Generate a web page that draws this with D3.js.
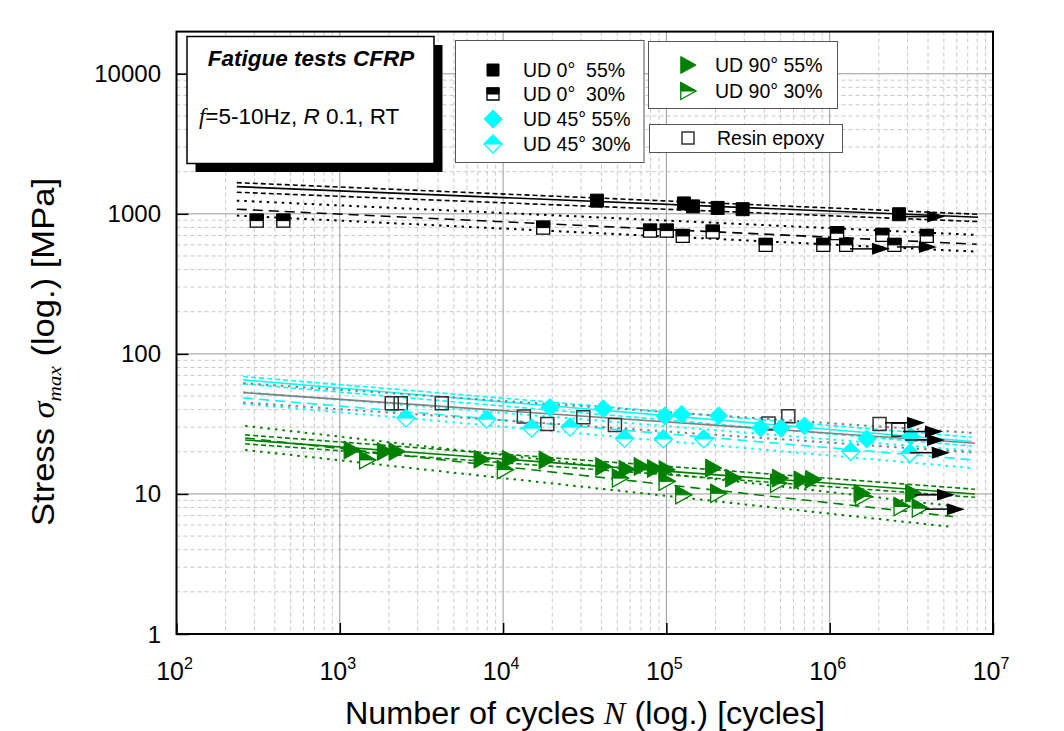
<!DOCTYPE html>
<html>
<head>
<meta charset="utf-8">
<script src="https://cdn.jsdelivr.net/npm/d3@7"></script>
<style>
body { margin: 0; background: #fff; }
text { font-family: "Liberation Sans", Arial, sans-serif; white-space: pre; }
</style>
</head>
<body>
<div id="contenedor"></div>
<script>

// puntos [N ciclos, tension MPa]
ud0_55 = [[37600, 1242], [128000, 1186], [145500, 1130], [206000, 1102], [293000, 1079], [2.66e6, 993]]
ud0_30 = [[310, 894], [451, 894], [17600, 797], [79400, 759], [100500, 759], [125900, 695], [192100, 746],
          [405500, 600], [914000, 600], [1.11e6, 727], [1.26e6, 600], [2.10e6, 707], [2.49e6, 600], [3.93e6, 695]]
ud45_55 = [[19370, 41.4], [41100, 40.6], [98000, 36.1], [124100, 37.0], [208400, 36.1], [376900, 29.6],
           [503000, 29.5], [701000, 30.6], [1.685e6, 24.7], [3.13e6, 25.8]]
ud45_30 = [[2540, 34.8], [7940, 34.2], [14960, 29.5], [25700, 30.0], [55400, 24.9], [95700, 24.7],
           [169200, 24.7], [1.345e6, 20.1], [3.10e6, 19.5]]
ud90_55 = [[1183, 20.6], [1891, 20.1], [2230, 20.1], [7395, 17.7], [11020, 17.7], [18490, 17.5], [41100, 15.7],
           [57100, 15.0], [70600, 15.7], [85100, 15.2], [100500, 14.9], [193700, 15.3], [256900, 12.97],
           [496000, 12.97], [674000, 12.6], [793000, 12.7], [1.57e6, 10.1], [3.25e6, 10.1]]
ud90_30 = [[1473, 17.5], [10270, 14.9], [51990, 12.97], [100500, 12.3], [126900, 9.85], [208000, 10.1],
           [484000, 11.9], [1.606e6, 9.58], [2.76e6, 8.13], [3.57e6, 7.92]]
resina = [[2080, 44.5], [2360, 44.5], [4210, 44.5], [13400, 35.7], [18650, 31.6], [31000, 35.3], [48400, 31.1],
          [422000, 31.9], [558000, 35.8], [2.02e6, 31.6], [2.63e6, 28.7]]

// ensayos sin rotura (flecha)
runouts = [[2.9e6, 955], [1.33e6, 562], [2.58e6, 580], [2.18e6, 32.2], [2.81e6, 27.9],
           [2.89e6, 24.3], [3.1e6, 19.7], [3.33e6, 9.85], [3.83e6, 7.79]]

// rectas de ajuste: media, banda superior, banda inferior
ajuste0_55 = [[[234, 1564], [8.1e6, 946]], [[234, 1670], [8.1e6, 993]], [[234, 1426], [8.1e6, 880]]]
ajuste0_30 = [[[234, 1079], [7.94e6, 607]], [[234, 1242], [7.94e6, 707]], [[234, 971], [7.94e6, 537]]]
ajusteResina = [[[256, 52.9], [7.76e6, 23.0]], [[256, 61.8], [7.76e6, 27.2]], [[256, 44.9], [7.76e6, 19.75]]]
ajuste45_55 = [[[256, 65.2], [7.4e6, 23.7]], [[256, 68.9], [7.4e6, 25.4]], [[256, 61.1], [7.4e6, 22.0]]]
ajuste45_30 = [[[256, 48.5], [7.5e6, 17.5]], [[256, 53.5], [7.5e6, 20.3]], [[256, 44.0], [7.5e6, 15.3]]]
ajuste90_55 = [[[263, 24.3], [7.76e6, 10.0]], [[263, 26.4], [7.76e6, 10.8]], [[263, 22.8], [7.76e6, 9.46]]]
ajuste90_30 = [[[263, 25.1], [5.69e6, 6.9]], [[263, 30.6], [5.69e6, 8.2]], [[263, 20.6], [5.69e6, 5.8]]]

ticksX = [1e2, 1e3, 1e4, 1e5, 1e6, 1e7]
ticksY = [1, 10, 100, 1000, 10000]
etiquetasY = ["1", "10", "100", "1000", "10000"]

negro = "#000"
cian = "#00ffff"
verde = "#008000"
gris = "#808080"

ancho = 1064
alto = 731

x = d3.scaleLog().domain([1e2, 1e7]).range([176.5, 993])
y = d3.scaleLog().domain([1, 2e4]).range([634, 31.6])

menoresX = []
ticksX.slice(0, -1).forEach(function(d) { for (k = 2; k < 10; k++) menoresX.push(d * k) })
menoresY = []
ticksY.slice(0, -1).forEach(function(d) { for (k = 2; k < 10; k++) menoresY.push(d * k) })

svg = d3.select("#contenedor").append("svg")
    .attr("width", ancho)
    .attr("height", alto)

// rejilla
grid = svg.append("g")
grid.selectAll(".gx").data(menoresX).enter().append("line")
    .attr("x1", d => x(d)).attr("x2", d => x(d))
    .attr("y1", y(2e4)).attr("y2", y(1))
    .attr("stroke", "#c8c8c8").attr("stroke-dasharray", "4,3")
grid.selectAll(".gy").data(menoresY).enter().append("line")
    .attr("y1", d => y(d)).attr("y2", d => y(d))
    .attr("x1", x(1e2)).attr("x2", x(1e7))
    .attr("stroke", "#c8c8c8").attr("stroke-dasharray", "4,3")
grid.selectAll(".Gx").data(ticksX).enter().append("line")
    .attr("x1", d => x(d)).attr("x2", d => x(d))
    .attr("y1", y(2e4)).attr("y2", y(1))
    .attr("stroke", "#999")
grid.selectAll(".Gy").data(ticksY).enter().append("line")
    .attr("y1", d => y(d)).attr("y2", d => y(d))
    .attr("x1", x(1e2)).attr("x2", x(1e7))
    .attr("stroke", "#999")

// rectas de ajuste
linea = d3.line().x(d => x(d[0])).y(d => y(d[1]))

function dibujaAjuste(aj, color, dashMedia, dashBanda, wBanda) {
    svg.append("path").attr("d", linea(aj[0])).attr("fill", "none")
        .attr("stroke", color).attr("stroke-width", 1.6).attr("stroke-dasharray", dashMedia)
    aj.slice(1).forEach(function(b) {
        svg.append("path").attr("d", linea(b)).attr("fill", "none")
            .attr("stroke", color).attr("stroke-width", wBanda).attr("stroke-dasharray", dashBanda)
    })
}

dibujaAjuste(ajuste90_30, verde, "10,6", "2.5,5", 2)
dibujaAjuste(ajuste90_55, verde, null, "5,3", 1.6)
dibujaAjuste(ajuste45_30, cian, "10,6", "2.5,5", 2)
dibujaAjuste(ajuste45_55, cian, null, "5,3", 1.6)
dibujaAjuste(ajusteResina, gris, null, "2.5,5", 2)
dibujaAjuste(ajuste0_30, negro, "10,6", "2.5,5", 2)
dibujaAjuste(ajuste0_55, negro, null, "5,3", 1.6)

// simbolos
function cuadrado(s) { return "M" + (-s) + "," + (-s) + "H" + s + "V" + s + "H" + (-s) + "Z" }
function cuadradoArriba(s) { return "M" + (-s) + "," + (-s) + "H" + s + "V0H" + (-s) + "Z" }
function rombo(s) { return "M0," + (-s) + "L" + s + ",0L0," + s + "L" + (-s) + ",0Z" }
function romboArriba(s) { return "M0," + (-s) + "L" + s + ",0L" + (-s) + ",0Z" }
function triangulo(s) { return "M" + (-s * 0.85) + "," + (-s) + "L" + (s * 0.95) + ",0L" + (-s * 0.85) + "," + s + "Z" }
function trianguloArriba(s) { return "M" + (-s * 0.85) + "," + (-s) + "L" + (s * 0.95) + ",0L" + (-s * 0.85) + ",0Z" }

function marca(g, forma, arriba, s, color, tipo) {
    if (tipo == "lleno") {
        g.append("path").attr("d", forma(s)).attr("fill", color).attr("stroke", color)
    } else if (tipo == "medio") {
        g.append("path").attr("d", forma(s)).attr("fill", "#fff").attr("stroke", color).attr("stroke-width", 1.3)
        g.append("path").attr("d", arriba(s)).attr("fill", color).attr("stroke", color)
    } else {
        g.append("path").attr("d", forma(s)).attr("fill", "none").attr("stroke", color).attr("stroke-width", 1.5)
    }
}

series = [
    [resina, cuadrado, null, 6.5, "#333", "vacio"],
    [ud90_30, triangulo, trianguloArriba, 9, verde, "medio"],
    [ud90_55, triangulo, trianguloArriba, 9, verde, "lleno"],
    [ud45_30, rombo, romboArriba, 9, cian, "medio"],
    [ud45_55, rombo, romboArriba, 9, cian, "lleno"],
    [ud0_30, cuadrado, cuadradoArriba, 6.5, negro, "medio"],
    [ud0_55, cuadrado, cuadradoArriba, 6.5, negro, "lleno"]
]

series.forEach(function(se) {
    svg.append("g").selectAll("g").data(se[0]).enter().append("g")
        .attr("transform", d => "translate(" + x(d[0]) + "," + y(d[1]) + ")")
        .each(function() { marca(d3.select(this), se[1], se[2], se[3], se[4], se[5]) })
})

// flechas de run-out
fl = svg.append("g").selectAll("g").data(runouts).enter().append("g")
    .attr("transform", d => "translate(" + x(d[0]) + "," + y(d[1]) + ")")
fl.append("line").attr("x1", 0).attr("x2", 30).attr("stroke", negro).attr("stroke-width", 1.5)
fl.append("path").attr("d", "M22,-6L40,0L22,6Z").attr("fill", negro)

// ejes
ejeX = svg.append("g").attr("transform", "translate(0," + y(1) + ")")
ejeX.call(d3.axisBottom(x).tickValues(menoresX).tickSize(-6).tickFormat(""))
ejeX.call(d3.axisBottom(x).tickValues(ticksX).tickSize(-11).tickFormat(""))
ejeX.selectAll(".domain").remove()
ejeX.selectAll("line").attr("stroke-width", 1.5)

ejeY = svg.append("g").attr("transform", "translate(" + x(1e2) + ",0)")
ejeY.call(d3.axisLeft(y).tickValues(menoresY).tickSize(-7).tickFormat(""))
ejeY.call(d3.axisLeft(y).tickValues(ticksY).tickSize(-12).tickFormat(""))
ejeY.selectAll(".domain").remove()
ejeY.selectAll("line").attr("stroke-width", 1.5)

svg.append("rect")
    .attr("x", x(1e2)).attr("y", y(2e4))
    .attr("width", x(1e7) - x(1e2)).attr("height", y(1) - y(2e4))
    .attr("fill", "none").attr("stroke", negro).attr("stroke-width", 2)

svg.selectAll(".ety").data(ticksY).enter().append("text")
    .attr("x", 161).attr("y", d => y(d) + 8.5)
    .attr("text-anchor", "end").attr("font-size", 24)
    .text((d, i) => etiquetasY[i])

etx = svg.selectAll(".etx").data(ticksX).enter().append("text")
    .attr("x", d => x(d) - 2).attr("y", 680)
    .attr("text-anchor", "middle").attr("font-size", 25)
etx.append("tspan").text("10")
etx.append("tspan").attr("dy", -11).attr("font-size", 16).text(d => Math.round(Math.log10(d)))

// titulos de ejes
tx = svg.append("text").attr("x", 585).attr("y", 724).attr("text-anchor", "middle").attr("font-size", 31)
    .attr("textLength", 480).attr("lengthAdjust", "spacingAndGlyphs")
tx.append("tspan").text("Number of cycles ")
tx.append("tspan").attr("font-family", "Liberation Serif").attr("font-style", "italic").text("N")
tx.append("tspan").text(" (log.) [cycles]")

ty = svg.append("text").attr("transform", "translate(54,352) rotate(-90)")
    .attr("text-anchor", "middle").attr("font-size", 31)
    .attr("textLength", 348).attr("lengthAdjust", "spacingAndGlyphs")
ty.append("tspan").text("Stress ")
ty.append("tspan").attr("font-family", "Liberation Serif").attr("font-style", "italic").text("σ")
ty.append("tspan").attr("font-family", "Liberation Serif").attr("font-style", "italic")
    .attr("font-size", 19).attr("dy", 7).text("max")
ty.append("tspan").attr("dy", -7).text(" (log.) [MPa]")

// cuadro de texto
svg.append("rect").attr("x", 195.5).attr("y", 45).attr("width", 247).attr("height", 127).attr("fill", negro)
svg.append("rect").attr("x", 187).attr("y", 36.5).attr("width", 247).attr("height", 127)
    .attr("fill", "#fff").attr("stroke", negro).attr("stroke-width", 1.5)
svg.append("text").attr("x", 311).attr("y", 66).attr("text-anchor", "middle")
    .attr("font-size", 22.5).attr("font-weight", "bold").attr("font-style", "italic")
    .text("Fatigue tests CFRP")
t2 = svg.append("text").attr("x", 199).attr("y", 124).attr("font-size", 22.5)
t2.append("tspan").attr("font-family", "Liberation Serif").attr("font-style", "italic").text("f")
t2.append("tspan").text("=5-10Hz, ")
t2.append("tspan").attr("font-style", "italic").text("R")
t2.append("tspan").text(" 0.1, RT")

// leyendas
function caja(x0, y0, w, h) {
    svg.append("rect").attr("x", x0).attr("y", y0).attr("width", w).attr("height", h)
        .attr("fill", "#fff").attr("stroke", "#555").attr("stroke-width", 1)
}
function entrada(xs, xt, yc, forma, arriba, s, color, tipo, texto) {
    g = svg.append("g").attr("transform", "translate(" + xs + "," + yc + ")")
    marca(g, forma, arriba, s, color, tipo)
    svg.append("text").attr("x", xt).attr("y", yc + 7).attr("font-size", 19.5).text(texto)
}

caja(455.5, 40.5, 188.5, 122)
entrada(493, 523, 70, cuadrado, cuadradoArriba, 6, negro, "lleno", "UD 0°  55%")
entrada(493, 523, 94, cuadrado, cuadradoArriba, 6, negro, "medio", "UD 0°  30%")
entrada(493, 523, 119, rombo, romboArriba, 9, cian, "lleno", "UD 45° 55%")
entrada(493, 523, 144, rombo, romboArriba, 9, cian, "medio", "UD 45° 30%")

caja(648.5, 41.5, 189, 67)
entrada(688, 715, 65, triangulo, trianguloArriba, 8.5, verde, "lleno", "UD 90° 55%")
entrada(688, 715, 91, triangulo, trianguloArriba, 8.5, verde, "medio", "UD 90° 30%")

caja(649.5, 124.5, 193, 28)
entrada(688, 717, 138, cuadrado, null, 6, "#333", "vacio", "Resin epoxy")

</script>
</body>
</html>
